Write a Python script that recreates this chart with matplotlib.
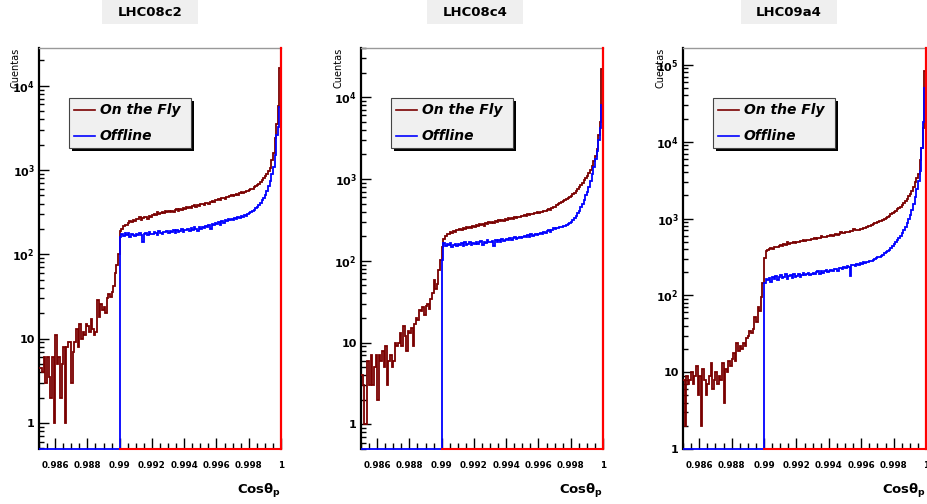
import numpy as np
import matplotlib
matplotlib.use('Agg')
import matplotlib.pyplot as plt
from matplotlib.patches import Rectangle
from matplotlib.lines import Line2D
from matplotlib.ticker import FixedLocator, FixedFormatter, MultipleLocator, NullFormatter, LogLocator

# ---------------- data ----------------
X_MIN, X_MAX = 0.985, 1.0
N_BINS = 150
X_SPLIT = 0.99          # Offline histogram is empty below this value

titles = ['LHC08c2', 'LHC08c4', 'LHC09a4']
legend_labels = ['On the Fly', 'Offline']
xtick_values = [0.986, 0.988, 0.99, 0.992, 0.994, 0.996, 0.998, 1.0]
xtick_labels = ['0.986', '0.988', '0.99', '0.992', '0.994', '0.996', '0.998', '1']

# On the Fly counts, 150 bins from 0.985 to 1.0
otf_lhc08c2 = [4.5, 4.5, 4, 6, 3, 6, 3.5, 2, 6, 1, 11, 5, 6, 2, 5, 8, 1, 8, 9, 9,
               3, 7, 9, 13, 8, 15, 10, 12, 11, 15, 14, 12, 17, 13, 11, 12, 29, 18, 26, 22,
               24, 20, 30, 34, 31, 36, 42, 60, 75, 100,
               190, 200, 215, 225, 220, 235, 245, 240, 255, 250,
               265, 260, 275, 255, 270, 280, 275, 265, 285, 280,
               290, 300, 295, 315, 300, 310, 320, 305, 325, 315,
               325, 315, 330, 320, 335, 340, 325, 345, 335, 350,
               345, 360, 350, 365, 355, 370, 380, 365, 385, 375,
               390, 400, 385, 405, 410, 400, 420, 430, 415, 440,
               435, 450, 445, 460, 470, 455, 480, 475, 490, 500,
               495, 510, 520, 505, 530, 545, 535, 555, 570, 560,
               585, 600, 595, 620, 640, 660, 690, 720, 760, 800,
               850, 900, 980, 1050, 1300, 1600, 2400, 3500, 5800, 16000]

otf_lhc08c4 = [4, 3, 1, 1, 6, 3, 7, 3, 5, 7, 2, 7, 6, 8, 5, 9, 3, 6, 7, 5,
               6, 10, 9, 10, 13, 9, 16, 12, 8, 14, 13, 15, 9, 17, 20, 19, 25, 24, 27, 22,
               28, 30, 26, 34, 40, 58, 45, 52, 78, 103,
               148, 185, 200, 215, 210, 225, 220, 232, 228, 240,
               235, 245, 240, 252, 248, 258, 250, 262, 255, 268,
               262, 272, 268, 280, 275, 285, 270, 290, 282, 295,
               288, 300, 292, 305, 298, 312, 305, 318, 310, 322,
               318, 330, 322, 335, 328, 340, 332, 348, 340, 355,
               350, 362, 355, 370, 365, 378, 372, 385, 380, 392,
               388, 400, 395, 410, 405, 420, 430, 422, 440, 450,
               460, 475, 490, 510, 520, 540, 555, 570, 590, 605,
               625, 650, 680, 710, 750, 790, 840, 900, 960, 1030,
               1100, 1200, 1300, 1450, 1650, 1900, 2300, 3500, 5000, 22000]

otf_lhc09a4 = [8, 2, 9, 7, 8, 10, 7, 9, 12, 5, 9, 2, 11, 8, 5, 7, 9, 13, 6, 8,
               10, 7, 9, 8, 13, 4, 11, 10, 14, 12, 15, 18, 14, 24, 19, 22, 20, 24, 22, 28,
               30, 34, 32, 36, 52, 45, 70, 62, 94, 143,
               310, 375, 395, 405, 410, 400, 420, 430, 425, 440,
               450, 445, 460, 455, 490, 470, 480, 475, 495, 485,
               500, 495, 510, 505, 520, 515, 525, 530, 520, 540,
               535, 550, 545, 560, 555, 600, 570, 580, 575, 590,
               595, 605, 600, 615, 620, 610, 630, 660, 640, 650,
               660, 670, 665, 680, 690, 740, 700, 715, 720, 735,
               740, 760, 755, 780, 790, 800, 820, 840, 880, 870,
               900, 920, 940, 960, 990, 1020, 1050, 1090, 1130, 1180,
               1220, 1270, 1320, 1370, 1430, 1500, 1580, 1680, 1800, 1950,
               2100, 2300, 2600, 3000, 3400, 3800, 5700, 8300, 15000, 83000]

# Offline counts, 100 bins from 0.99 to 1.0 (empty below 0.99)
off_lhc08c2 = [160, 172, 165, 178, 168, 180, 162, 175, 170, 165,
               172, 168, 178, 170, 140, 175, 180, 170, 182, 176,
               172, 185, 178, 168, 190, 180, 176, 186, 182, 190,
               178, 188, 184, 192, 180, 195, 186, 190, 198, 185,
               196, 192, 200, 188, 205, 195, 210, 200, 190, 208,
               200, 212, 205, 218, 210, 225, 200, 230, 220, 235,
               228, 240, 225, 248, 235, 255, 245, 260, 252, 265,
               258, 268, 262, 275, 270, 282, 278, 290, 285, 300,
               305, 315, 325, 335, 350, 365, 385, 410, 440, 470,
               510, 560, 640, 750, 900, 1100, 1500, 2600, 3200, 5600]

off_lhc08c4 = [103, 166, 150, 160, 155, 165, 148, 158, 162, 152,
               160, 155, 165, 150, 168, 158, 162, 170, 155, 166,
               162, 172, 160, 168, 175, 158, 170, 166, 178, 172,
               168, 176, 150, 180, 172, 178, 170, 184, 176, 182,
               186, 178, 190, 182, 188, 195, 185, 192, 198, 190,
               196, 202, 194, 205, 198, 210, 202, 208, 215, 206,
               214, 220, 212, 225, 218, 230, 235, 228, 240, 250,
               245, 255, 250, 262, 258, 265, 270, 275, 282, 290,
               300, 315, 330, 355, 380, 410, 450, 500, 560, 630,
               700, 800, 950, 1150, 1400, 1750, 2200, 3000, 4200, 8000]

off_lhc09a4 = [143, 165, 158, 170, 150, 175, 165, 180, 160, 172,
               185, 168, 175, 190, 162, 178, 182, 170, 188, 176,
               180, 192, 175, 185, 195, 182, 188, 198, 185, 192,
               195, 188, 200, 205, 192, 210, 198, 205, 212, 200,
               208, 215, 205, 218, 222, 210, 225, 230, 220, 235,
               228, 240, 235, 180, 250, 245, 242, 255, 248, 262,
               258, 268, 262, 275, 270, 282, 278, 290, 298, 305,
               312, 320, 330, 340, 352, 365, 380, 395, 415, 435,
               460, 490, 520, 560, 600, 650, 710, 780, 870, 980,
               1100, 1300, 1550, 1900, 2400, 3100, 4200, 8300, 18000, 50000]

otf_series = [otf_lhc08c2, otf_lhc08c4, otf_lhc09a4]
off_series = [off_lhc08c2, off_lhc08c4, off_lhc09a4]
y_limits = [(0.49, 28000), (0.5, 40000), (1.0, 166000)]
y_decades = [[1, 10, 100, 1000, 10000],
             [1, 10, 100, 1000, 10000],
             [1, 10, 100, 1000, 10000, 100000]]
y_decade_labels = ['1', '10', r'10$^{\mathbf{2}}$', r'10$^{\mathbf{3}}$',
                   r'10$^{\mathbf{4}}$', r'10$^{\mathbf{5}}$']

# ---------------- layout ----------------
W, H = 927, 504
COL_OTF = '#7a0000'
COL_OFF = '#0000ff'
COL_EDGE = '#ff0000'

fig = plt.figure(figsize=(W / 100, H / 100), dpi=100)

def fx(px):
    return px / W

def fy(py):
    return 1 - py / H

axes_px = [(39, 48, 242, 401), (361, 48, 242, 401), (683, 48, 243, 401)]
title_cx = [150, 475, 789]

edges = np.linspace(X_MIN, X_MAX, N_BINS + 1)
n_lo = int(round((X_SPLIT - X_MIN) / (X_MAX - X_MIN) * N_BINS))

for i in range(3):
    x0, y0, w, h = axes_px[i]
    ax = fig.add_axes([fx(x0), (H - y0 - h) / H, w / W, h / H])
    ymin, ymax = y_limits[i]
    ax.set_yscale('log')
    ax.set_xlim(X_MIN, X_MAX)
    ax.set_ylim(ymin, ymax)

    otf = np.array(otf_series[i], dtype=float)
    off = np.concatenate([np.zeros(n_lo), np.array(off_series[i], dtype=float)])

    ax.stairs(otf, edges, color=COL_OTF, lw=1.3, baseline=None, zorder=3)
    ax.stairs(np.maximum(off, ymin), edges, color=COL_OFF, lw=1.3, baseline=None,
              zorder=4, clip_on=False)
    ax.plot([X_SPLIT, X_MAX], [ymin, ymin], color=COL_EDGE, lw=1.5, clip_on=False, zorder=5)

    # spines
    ax.spines['left'].set_color('black')
    ax.spines['left'].set_linewidth(1.6)
    ax.spines['top'].set_color('#999999')
    ax.spines['top'].set_linewidth(1.0)
    ax.spines['right'].set_color(COL_EDGE)
    ax.spines['right'].set_linewidth(1.6)
    ax.spines['right'].set_zorder(6)
    ax.spines['bottom'].set_visible(False)

    # x ticks
    ax.xaxis.set_major_locator(FixedLocator(xtick_values))
    ax.xaxis.set_major_formatter(FixedFormatter(xtick_labels))
    ax.xaxis.set_minor_locator(MultipleLocator(0.0005))
    ax.tick_params(axis='x', which='major', direction='in', length=8, width=1.0,
                   pad=9, labelsize=6.3, color='black', top=False)
    ax.tick_params(axis='x', which='minor', direction='in', length=4, width=1.0,
                   color='black', top=False)
    for lab in ax.get_xticklabels():
        lab.set_fontweight('bold')

    # y ticks
    decs = y_decades[i]
    ax.yaxis.set_major_locator(FixedLocator(decs))
    ax.yaxis.set_major_formatter(FixedFormatter(y_decade_labels[:len(decs)]))
    ax.yaxis.set_minor_locator(LogLocator(base=10, subs=np.arange(2, 10)))
    ax.yaxis.set_minor_formatter(NullFormatter())
    ax.tick_params(axis='y', which='major', direction='in', length=7, width=1.0,
                   pad=3, labelsize=8, right=False)
    ax.tick_params(axis='y', which='minor', direction='in', length=3.5, width=1.0,
                   right=False)
    for lab in ax.get_yticklabels():
        lab.set_fontweight('bold')

    # title box
    cx = title_cx[i]
    fig.add_artist(Rectangle((fx(cx - 48), fy(24)), 96 / W, 24 / H,
                             transform=fig.transFigure, facecolor='#efefef',
                             edgecolor='none'))
    fig.text(fx(cx), fy(13), titles[i], ha='center', va='center',
             fontsize=9.5, fontweight='bold')

    # axis titles
    fig.text(fx(x0 - 23), fy(y0), 'Cuentas', rotation=90, ha='center', va='top',
             fontsize=7)
    fig.text(fx(x0 + w), fy(491), 'Cos\u03b8$_{\\mathbf{p}}$', ha='right', va='center',
             fontsize=9.5, fontweight='bold')

    # legend
    bl, bt, bw, bh = x0 + 30, 98, 122, 50
    fig.add_artist(Rectangle((fx(bl + 3), fy(bt + bh + 3)), bw / W, bh / H,
                             transform=fig.transFigure, facecolor='black',
                             edgecolor='none', zorder=10))
    fig.add_artist(Rectangle((fx(bl), fy(bt + bh)), bw / W, bh / H,
                             transform=fig.transFigure, facecolor='#f0f0f0',
                             edgecolor='#444444', lw=0.8, zorder=11))
    for k, (lab, col) in enumerate(zip(legend_labels, [COL_OTF, COL_OFF])):
        yy = bt + 12 + 26 * k
        fig.add_artist(Line2D([fx(bl + 5), fx(bl + 26)], [fy(yy), fy(yy)],
                              transform=fig.transFigure, color=col, lw=1.2, zorder=12))
        fig.text(fx(bl + 31), fy(yy), lab, ha='left', va='center', fontsize=10,
                 fontweight='bold', fontstyle='italic', zorder=12)

fig.savefig('out.png', dpi=100)
